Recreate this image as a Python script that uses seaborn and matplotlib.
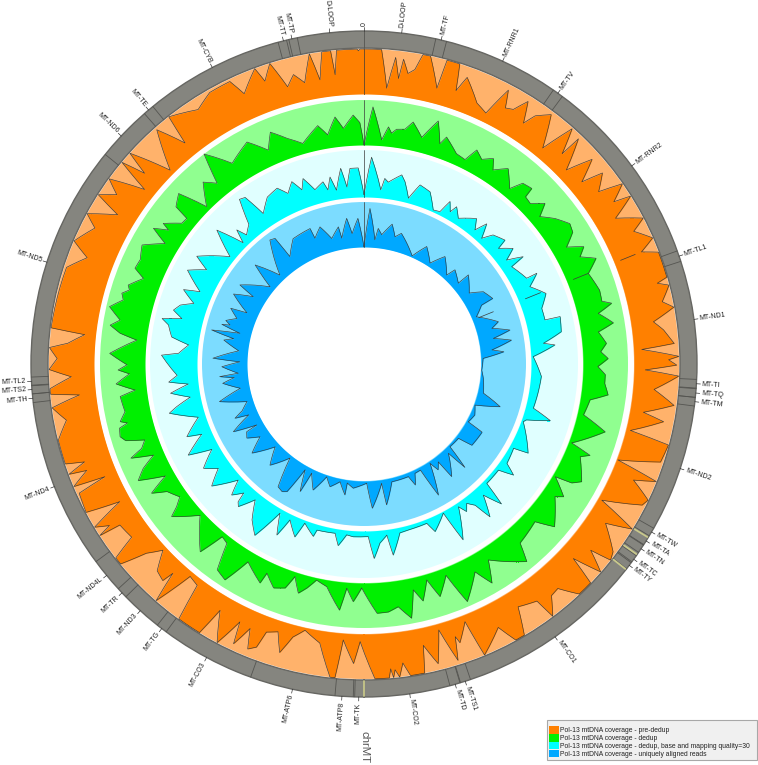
# circular mtDNA coverage plot, four tracks plus the gene ring
import matplotlib
matplotlib.use("Agg")
import matplotlib.pyplot as plt
from matplotlib.patches import Patch, Rectangle
from matplotlib.path import Path
import numpy as np
import pandas as pd
import seaborn as sns

sns.set_theme(style="white")
plt.rcParams["font.family"] = ["Liberation Sans", "DejaVu Sans"]

# genome position in degrees clockwise from 0, coverage as share of the track height
ORANGE_POS = [0, 3.2, 4.7, 5.9, 6.9, 7.4, 8.6, 9.8, 10.8, 12.2,
              14.8, 15.3, 17.7, 18.6, 19.8, 23.4, 25.9, 27.8, 28.9, 30.4,
              32, 33.5, 34.6, 36.9, 39.6, 41.5, 43.3, 43.6, 46.2, 48.1,
              50.1, 51.3, 53.7, 55.1, 57, 57.8, 59.9, 62.4, 63.8, 66.4,
              68, 69.2, 71.5, 74, 74.6, 75.5, 78.2, 79.6, 81.7, 83.5,
              85.5, 86.2, 87, 88.6, 89.2, 90.2, 91.2, 92.2, 95, 97.6,
              99.8, 100.9, 104, 104.9, 108.3, 110.7, 111.9, 113.3, 115.6, 116.9,
              119.8, 121.6, 123.4, 127, 128.5, 129.4, 131.3, 132.9, 134, 136.9,
              139.2, 141, 143.2, 143.9, 147.6, 149.4, 151.2, 153, 157.5, 158.6,
              161, 161.5, 162.4, 164.3, 166.1, 168.1, 168.9, 171.5, 172.6, 173.5,
              174.2, 174.6, 175, 175.4, 178, 180.8, 182, 184.3, 185.3, 186.2,
              189, 192.5, 194.6, 196.3, 197.8, 200, 200.8, 202.2, 203.3, 205,
              205.7, 207.8, 210.3, 211.5, 216, 217, 219.3, 221.3, 222.4, 222.9,
              225, 227.2, 229, 230.6, 232, 233.3, 236.6, 237, 237.6, 238.8,
              240.6, 241.9, 245.6, 246.5, 247.1, 249, 249.5, 250.7, 251.5, 256,
              259.3, 262, 263.8, 264.5, 265.5, 267.5, 269, 271, 273, 274,
              276, 276.6, 288, 291, 293, 296.8, 298.5, 301.2, 302.5, 304.4,
              306, 308.5, 309.8, 311, 312, 315, 318.5, 321, 321.7, 326.9,
              330.4, 334.6, 336.1, 339.7, 340.7, 342.6, 344.6, 346.3, 348.1, 350,
              351.2, 352.3, 353.9, 354.3, 355, 358.7, 359, 359.3]
ORANGE_COV = [1, 1, .15, .85, .39, .83, .53, .64, 1, 1,
              .34, 1, 1, .41, .77, .32, .2, .88, .5, .56,
              .88, .42, .7, .93, .23, .98, .42, .91, .23, .81,
              .31, .79, .47, 1, .62, 1, .46, 1, .68, 1,
              .65, 1, 1, 1, .76, 1, .77, 1, .5, .7,
              .85, .91, .18, 1, .77, .95, .25, 1, .47, .95,
              .3, .78, .1, 1, .94, .03, 1, .52, 1, .93,
              .09, 1, .43, .93, 1, .52, 1, .35, 1, 1,
              .59, .62, 1, .52, .39, 1, 1, .57, 1, .15,
              .55, .39, .91, .14, .86, .39, 1, 1, .7, 1,
              .83, 1, .8, 1, 1, .17, .66, .15, 1, 1,
              .28, .06, .27, .68, .25, .34, .73, .84, .4, .86,
              .36, 1, .34, 1, 1, .16, .1, 1, .3, .57,
              .5, .09, .41, 1, 1, .44, .5, 1, .7, 1,
              .23, 1, .95, .28, 1, .6, 1, .58, 1, 1,
              .73, 1, .36, 1, 1, .51, 1, .82, 1, .6,
              .24, 1, .95, .59, 1, .7, 1, .4, 1, .66,
              1, .23, 1, .46, 1, .09, .95, .32, 1, .75,
              .94, .95, .57, 1, .66, 1, .39, .62, .39, 1,
              .39, 1, 1, .46, 1, 1, .96, 1]

GREEN_POS = [0, 2, 4.5, 5.9, 6.8, 7.9, 9.9, 11.5, 14.3, 17,
             19, 20, 23.7, 26.3, 27.8, 29.9, 32.2, 33.6, 36.4, 39.7,
             41.3, 43.7, 44, 46, 48.4, 50, 52.7, 55.7, 57.7, 60,
             61.9, 63.6, 65.5, 68, 72.6, 75.2, 76.2, 77.8, 80.6, 82.2,
             85.1, 87, 88.7, 90.6, 92.5, 94.6, 97.2, 99, 103, 105.7,
             110.8, 112, 113.2, 118.4, 119.8, 120.5, 123.6, 124.8, 130.5, 132.7,
             138.9, 140.5, 147.6, 149.7, 151.9, 156.5, 158.8, 161.9, 163.8, 166,
             167.7, 169.4, 172, 174.4, 177, 178.2, 180.6, 182.6, 184.4, 185.7,
             189.5, 192.4, 194.3, 196, 198, 199.4, 202, 204.9, 205.4, 210.4,
             212.8, 215.5, 217.4, 219.4, 221.1, 227.3, 231.6, 232.7, 234.2, 237.1,
             238.7, 240.6, 242.7, 244.7, 246.6, 248, 249.2, 250.9, 252.2, 253.4,
             255.3, 256, 256.7, 258.7, 262.4, 263.5, 265.4, 267.6, 268.6, 269.8,
             272.4, 276, 277.2, 278.7, 280.2, 282.7, 284.9, 286.3, 287.5, 288.5,
             291.2, 292.7, 295, 298.2, 301.2, 302.8, 304.4, 305, 307.7, 309.4,
             309.9, 312.6, 315, 318.5, 320.9, 322.7, 326.7, 332.2, 335.9, 338,
             341.2, 344.5, 349, 351, 353.3, 355, 357.5, 359]
GREEN_COV = [0, .85, .13, .43, .3, .4, .43, .62, .33, .78,
             .31, .5, .24, .2, .51, .38, .53, .31, .53, .2,
             .48, .53, .3, .27, .51, .23, .47, .67, .62, .33,
             .67, .49, .8, .51, .62, .6, .8, .46, .75, .39,
             .54, .4, .56, .33, .5, .5, .6, .22, .14, .7,
             .07, .55, .36, .63, .45, .07, .46, .3, .7, .3,
             .41, .82, .29, .77, .37, .89, .17, .57, .13, .56,
             .27, .88, .58, .67, .68, .49, .11, .42, .13, .63,
             .15, .05, .27, .43, .1, .41, .5, .26, .52, .23,
             .84, .75, .15, .1, .67, .09, .59, .37, .18, .35,
             .66, .2, .78, .56, .23, .72, .42, .29, .7, .79,
             .75, .55, .7, .55, .6, .25, .66, .35, .6, .4,
             .79, .21, .6, .84, .64, .93, .67, .74, .6, .66,
             .39, .65, .62, .73, .3, .7, .4, .58, .25, .23,
             .58, .73, .08, .53, .31, 1, .47, .71, .34, .69,
             .43, .22, .53, .29, .66, .39, .67, .5]

CYAN_POS = [0, 2.1, 5.5, 6.4, 7.6, 11.3, 12.7, 15, 17.4, 21,
            24.2, 26.5, 27.9, 29.5, 30.5, 32.9, 37.7, 39.6, 41.2, 43.1,
            45, 48.7, 49.3, 52.2, 53.9, 56, 56.6, 62.2, 62.3, 65,
            68.8, 72.6, 76.3, 76.4, 80.7, 83.4, 84.3, 87.5, 90, 94,
            104.6, 106.9, 109, 109.9, 118.5, 119.4, 124.8, 126.6, 128.3, 134.2,
            135.5, 137.7, 140.5, 141.8, 143.6, 145.2, 146.5, 150.6, 152, 157,
            158.5, 165, 168, 171.3, 172.4, 174.9, 177, 178.6, 183.6, 185.8,
            188.1, 189.7, 195.8, 196.4, 200.4, 201.8, 205.4, 207, 209.4, 212.5,
            215.7, 218.7, 221.4, 222.4, 223, 225.3, 227.3, 231.3, 234.4, 237,
            240.7, 242.6, 246.6, 247.7, 252.2, 255.8, 257.2, 259.2, 261.4, 263.5,
            264.7, 266.5, 272.5, 273.3, 276.2, 278, 281.3, 282.7, 284, 285.8,
            287.8, 289.6, 292.4, 293.8, 298, 300.9, 302.8, 308.7, 312.3, 315.1,
            316.5, 317.7, 320.5, 322.9, 324.5, 326.2, 329.9, 333.7, 336, 338.4,
            340.4, 341.8, 344.3, 347.3, 348.3, 349.7, 351, 353.2, 354.5, 355.9,
            358.3]
CYAN_COV = [.05, .85, .17, .42, .35, .55, .42, .1, .44, .37,
            .04, .07, .36, .17, .33, .14, .36, .15, .41, .11,
            .33, .44, .22, .46, .2, .53, .21, .36, .6, .34,
            .6, .41, .41, .74, .7, .29, .53, .05, .12, .23,
            .17, .59, .1, .05, .42, .1, .15, .41, .09, .09,
            .62, .22, .66, .27, .13, .27, .09, .74, .04, .32,
            .09, .1, .12, .56, .12, .27, .59, .12, .13, .1,
            .35, .1, .12, .27, .06, .41, .12, .53, .09, .77,
            .53, .15, .49, .42, .2, .41, .09, .6, .26, .52,
            .16, .66, .21, .52, .15, .72, .53, .21, .61, .21,
            .62, .43, .76, .4, .2, .58, .69, .85, .44, .66,
            .55, .29, .6, .26, .7, .35, .68, .1, .68, .09,
            .38, .16, .3, .84, .8, .3, .55, .62, .42, .62,
            .38, .6, .3, .42, .23, .49, .19, .64, .23, .62,
            .62]

BLUE_POS = [0, 2.2, 5, 6, 7.8, 11.4, 13.7, 16, 24, 28.1,
            33.2, 37, 42.9, 44, 49.4, 49.5, 56, 58.8, 63, 63.4,
            67.2, 72.5, 74.4, 76.9, 78.8, 80.8, 83.7, 85, 87.3, 93,
            96.8, 103.7, 107.4, 110.3, 114.7, 119, 120, 127, 128.2, 133.9,
            135.7, 136.6, 142.1, 142.8, 145, 146.4, 150.4, 152, 155, 157,
            158.5, 166.7, 170.9, 171.6, 176.7, 178.7, 185, 188, 188.3, 191.5,
            195.5, 198.3, 202, 205.6, 206.6, 209.1, 211.1, 212.7, 215, 218.2,
            222.9, 227, 231.5, 235, 237.7, 240, 240.4, 242.6, 246.2, 247.2,
            249, 252.2, 255.4, 258.9, 262.2, 264, 265, 265.8, 268.9, 271,
            272.2, 276, 279.7, 281, 282.6, 283.9, 285.6, 286.2, 287.5, 289.7,
            292.7, 293.6, 298.2, 301.3, 302.5, 309.4, 312.3, 316.6, 322.8, 324.7,
            325.4, 330.5, 338.3, 338.7, 342.2, 345.6, 349.4, 350, 353.2, 354.8,
            357.6]
BLUE_COV = [0, .86, .17, .43, .3, .57, .31, .42, .03, .36,
            .08, .39, .1, .31, .16, .45, .22, .5, .61, .32,
            .11, .53, .35, .73, .33, .72, .26, .52, .05, .02,
            .07, .13, .57, .03, .11, .05, .43, .4, .07, .05,
            .61, .13, .57, .13, .27, .05, .75, .07, .08, .32,
            .09, .09, .57, .08, .61, .05, .17, .07, .34, .07,
            .23, .04, .42, .09, .57, .09, .71, .77, .73, .06,
            .47, .1, .58, .22, .48, .41, .14, .67, .2, .51,
            .3, .13, .72, .2, .57, .3, .62, .2, .56, .16,
            .76, .2, .56, .35, .87, .24, .68, .5, .62, .4,
            .61, .24, .69, .28, .67, .1, .67, .12, .86, .82,
            .3, .6, .64, .4, .6, .28, .5, .24, .66, .31,
            .64]

LEGEND_LABELS = ["Pol-13 mtDNA coverage - pre-dedup",
                 "Pol-13 mtDNA coverage - dedup",
                 "Pol-13 mtDNA coverage - dedup, base and mapping quality=30",
                 "Pol-13 mtDNA coverage - uniquely aligned reads"]

GENE_NAMES = ["D-LOOP", "MT-TF", "MT-RNR1", "MT-TV", "MT-RNR2", "MT-TL1", "MT-ND1",
              "MT-TI", "MT-TQ", "MT-TM", "MT-ND2", "MT-TW", "MT-TA", "MT-TN", "MT-TC",
              "MT-TY", "MT-CO1", "MT-TS1", "MT-TD", "MT-CO2", "MT-TK", "MT-ATP8",
              "MT-ATP6", "MT-CO3", "MT-TG", "MT-ND3", "MT-TR", "MT-ND4L", "MT-ND4",
              "MT-TH", "MT-TS2", "MT-TL2", "MT-ND5", "MT-ND6", "MT-TE", "MT-CYB",
              "MT-TT", "MT-TP", "D-LOOP"]
GENE_POS = [6.5, 13.4, 24.6, 35.6, 53.5, 71.1, 82.3,
            93.4, 95, 96.5, 108.3, 120.3, 122.1, 123.7, 125.9,
            127.2, 145, 162.3, 164.1, 172.1, 180.9, 183.8,
            192.4, 208.2, 217.4, 222.2, 226.6, 230.6, 248.4,
            264.1, 265.6, 267, 287.8, 313.2, 319.7, 332.9,
            346, 347.5, 354.1]
# long genes whose edges show on the ring next to no tRNA
GENE_EDGES = [0, 181.6, 185, 199.9, 233.6, 309]
YELLOW_MARKS = [121.4, 124.9, 128.1, 180]
ARTIFACT_POS = [0, 68]


# centre of the circle is at pixel (364, 364), one radial unit is one pixel
fig = plt.figure(figsize=(7.58, 7.65), dpi=100)
ax = fig.add_axes([24 / 758, 61 / 765, 680 / 758, 680 / 765], projection="polar")
ax.set_theta_zero_location("N")
ax.set_theta_direction(-1)
ax.set_ylim(0, 340)
ax.axis("off")


def draw_track(pos, cov, inner, outer, dark, light):
    ax.bar(0, outer - inner, width=2 * np.pi, bottom=inner, color=light, linewidth=0)
    df = pd.DataFrame({"pos": pos, "cov": cov}).sort_values("pos", kind="stable")
    pos_closed = np.append(df["pos"], df["pos"].iloc[0] + 360)
    cov_closed = np.append(df["cov"], df["cov"].iloc[0])
    radius = inner + cov_closed * (outer - inner)
    # split every segment so long stretches at full height stay round
    verts = Path(np.column_stack([np.deg2rad(pos_closed), radius])).interpolated(6).vertices
    ax.fill_between(verts[:, 0], inner, verts[:, 1], color=dark, linewidth=0)
    sns.lineplot(x=verts[:, 0], y=verts[:, 1], ax=ax, sort=False, estimator=None,
                 color="#3a3a3a", linewidth=0.45)
    for a in ARTIFACT_POS:
        top = 1 if a == 0 else 0.5
        low = 0 if a == 0 else 0.15
        ax.plot([np.deg2rad(a)] * 2, [inner + low * (outer - inner), inner + top * (outer - inner)],
                color="#3a3a3a", lw=0.5)


draw_track(ORANGE_POS, ORANGE_COV, 270, 315, "#ff8000", "#ffb26b")
draw_track(GREEN_POS, GREEN_COV, 219, 264, "#00f000", "#90ff90")
draw_track(CYAN_POS, CYAN_COV, 167, 214, "#00ffff", "#e0ffff")
draw_track(BLUE_POS, BLUE_COV, 117, 162, "#00a8ff", "#7cdcff")

# gene ring
ax.bar(0, 17, width=2 * np.pi, bottom=316, color="#85857f", edgecolor="#666662", linewidth=1.0)
for g, p in zip(GENE_NAMES, GENE_POS):
    t = np.deg2rad(p)
    half = 0.75 if 90 < p < 130 or p > 260 and p < 270 else 0.95
    edges = [p - half, p + half] if g.startswith("MT-T") else []
    for e in edges:
        ax.plot([np.deg2rad(e)] * 2, [316, 333], color="#555551", lw=0.6)
    ax.plot([t, t], [333, 337], color="#333333", lw=0.5, clip_on=False)
    rot = 90 - p if p <= 180 else 270 - p
    ha = "left" if p <= 180 else "right"
    ax.text(t, 338.5, g, rotation=rot, rotation_mode="anchor", ha=ha, va="center",
            fontsize=5.0, color="#222222", clip_on=False)
for e in GENE_EDGES:
    ax.plot([np.deg2rad(e)] * 2, [316, 333], color="#555551", lw=0.6)
for m in YELLOW_MARKS:
    ax.plot([np.deg2rad(m)] * 2, [317, 332], color="#c9c98c", lw=1.3)

ax.plot([0, 0], [333, 337], color="#333333", lw=0.5, clip_on=False)
ax.text(0, 338.5, "0", rotation=90, rotation_mode="anchor", ha="left", va="center",
        fontsize=5.0, color="#222222", clip_on=False)
ax.text(np.deg2rad(179.9), 367, "chrMT", rotation=-90, rotation_mode="anchor", ha="left",
        va="center", fontsize=8.2, color="#555555", clip_on=False)

# legend box is wider than its text, so the frame goes in by hand
fig.add_artist(Rectangle((547 / 758, 5 / 765), 210 / 758, 40 / 765, transform=fig.transFigure,
                         facecolor="#f0f0f0", edgecolor="#a8a8a8", linewidth=0.8, zorder=1))
handles = [Patch(facecolor=c, edgecolor="none") for c in ["#ff8000", "#00f000", "#00ffff", "#00a8ff"]]
fig.legend(handles, LEGEND_LABELS, loc="lower left", bbox_to_anchor=(549 / 758, 7 / 765),
           fontsize=4.85, frameon=False, handlelength=1.48, handleheight=1.3, handletextpad=0.15,
           labelspacing=0.0, borderpad=0, borderaxespad=0, labelcolor="#222222")

fig.savefig("out.png", dpi=100)
